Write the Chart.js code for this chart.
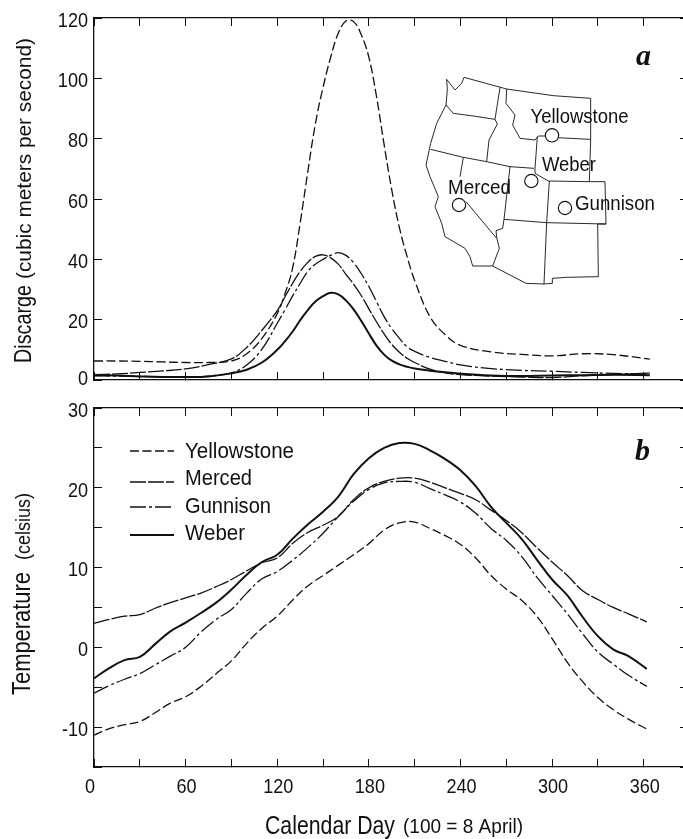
<!DOCTYPE html>
<html>
<head>
<meta charset="utf-8">
<title>Discharge and temperature</title>
<script src="https://cdn.jsdelivr.net/npm/chart.js@4"></script>
<style>
    html, body { margin: 0; padding: 0; background: #fff; overflow: hidden; width: 683px; height: 839px; }
    canvas { position: absolute; left: 0; }
    #dischargeChart { top: 0; }
    #temperatureChart { top: 400px; }
</style>
</head>
<body>
<canvas id="dischargeChart" width="690" height="400"></canvas>
<canvas id="temperatureChart" width="690" height="439"></canvas>
<script>
// Data
const seriesNames = ['Yellowstone', 'Merced', 'Gunnison', 'Weber'];

const dischargeDays = [0, 15, 30, 45, 60, 75, 90, 100, 110, 120, 125, 130, 135, 140, 145, 150, 155, 160, 165, 170, 175, 180, 185, 190, 195, 200, 205, 210, 220, 230, 240, 260, 280, 300, 320, 340, 364];
const dischargeYellowstone = [6.3, 6.3, 6.2, 6.0, 5.8, 5.8, 6.3, 8.7, 13.8, 22, 28.5, 37, 52, 69, 85, 97, 107, 115, 119, 118.8, 114.5, 107, 94, 78, 63, 50.5, 41, 33, 21, 15, 11.5, 9.3, 8.5, 8.0, 8.7, 8.4, 6.9];
const dischargeMerced = [1.8, 2.0, 2.5, 3.0, 3.7, 5.1, 7.0, 10.8, 16.5, 23, 27.5, 32, 36, 39, 41, 41.5, 40.5, 38.4, 35, 31.8, 28, 23.6, 19.3, 15.3, 11.8, 9.2, 7.2, 5.8, 3.6, 2.4, 1.8, 1.3, 1.0, 0.8, 1.4, 1.8, 2.3];
const dischargeGunnison = [1.4, 1.3, 1.2, 1.1, 1.1, 1.3, 2.4, 5.0, 10.2, 18.8, 23.2, 27.8, 32, 36, 38.4, 40, 41.3, 42.2, 41.3, 38.9, 35.3, 31, 26, 21, 17, 13.8, 11, 9.5, 7.5, 6.2, 5, 3.8, 3.2, 2.9, 2.5, 2.2, 2.0];
const dischargeWeber = [1.6, 1.5, 1.2, 1.0, 1.0, 1.2, 2.2, 3.4, 5.8, 10, 12.8, 16, 19.8, 23.2, 26, 27.8, 28.9, 28.4, 26.4, 23.4, 19.6, 15.4, 11.4, 8.4, 6.4, 5.2, 4.4, 3.8, 3.1, 2.6, 2.1, 1.5, 1.3, 1.5, 1.6, 1.7, 1.6];

const temperatureDays = [0, 10, 20, 30, 40, 50, 60, 70, 80, 90, 100, 110, 120, 130, 140, 150, 160, 170, 180, 190, 200, 210, 220, 230, 240, 250, 260, 270, 280, 290, 300, 310, 320, 330, 340, 350, 362];
const temperatureYellowstone = [-11, -10.2, -9.7, -9.3, -8.2, -7.0, -6.2, -4.9, -3.3, -1.7, 0.5, 2.4, 3.9, 5.9, 7.7, 9.0, 10.3, 11.6, 13, 14.7, 15.6, 15.7, 14.9, 14, 12.9, 11.2, 9, 7.3, 5.9, 3.9, 1.1, -1.9, -4.3, -6.3, -7.8, -9, -10.25];
const temperatureMerced = [3, 3.5, 3.9, 4.1, 4.9, 5.6, 6.2, 6.8, 7.6, 8.5, 9.6, 10.6, 11.2, 13, 14.4, 15.3, 16.4, 18.5, 20, 20.8, 21.2, 21.2, 20.7, 20, 19.3, 18.5, 17.2, 15.9, 14.4, 12.5, 10.7, 9, 7.1, 6, 5, 4.2, 3.2];
const temperatureGunnison = [-5.75, -4.8, -4, -3.3, -2.2, -1.1, 0, 1.9, 3.5, 4.75, 6.8, 8.6, 9.5, 10.9, 12.5, 14.3, 16.4, 18.3, 19.8, 20.6, 20.8, 20.7, 19.9, 19.1, 18.2, 16.8, 14.9, 13.4, 11.4, 8.8, 6.5, 4.2, 1.7, -0.6, -2.1, -3.5, -4.9];
const temperatureWeber = [-3.9, -2.6, -1.6, -1.2, 0.4, 2, 3.1, 4.3, 5.6, 7.25, 9.1, 10.7, 11.6, 13.6, 15.4, 17, 18.9, 21.7, 23.7, 25, 25.6, 25.5, 24.7, 23.6, 22.2, 20.2, 17.6, 15.6, 13.6, 11, 8.5, 6.5, 3.8, 1.4, -0.25, -1.1, -2.7];

const xTickLabels = [0, 60, 120, 180, 240, 300, 360];
const dischargeTickLabels = [0, 20, 40, 60, 80, 100, 120];
const temperatureTickLabels = [-10, 0, 10, 20, 30];

// Styles
const ink = '#111';
const sans = '"Liberation Sans", Arial, sans-serif';
const tickSize = 21;
const tickSqueeze = 0.86;
const lineStyles = [
    { borderDash: [9, 3.5], borderWidth: 1.3 },
    { borderDash: [16, 2], borderWidth: 1.3 },
    { borderDash: [16, 3, 3, 3], borderWidth: 1.3 },
    { borderDash: [], borderWidth: 2 }
];

function makeDatasets(days, rows) {
    return rows.map((values, i) => ({
        label: seriesNames[i],
        data: days.map((d, j) => ({ x: d, y: values[j] })),
        borderColor: ink,
        borderDash: lineStyles[i].borderDash,
        borderWidth: lineStyles[i].borderWidth,
        tension: 0.4,
        pointRadius: 0,
        fill: false
    }));
}

function fixSize(size) {
    return scale => {
        if (scale.isHorizontal()) scale.height = size;
        else scale.width = size;
    };
}

const axisLines = {
    display: true,
    drawOnChartArea: false,
    drawTicks: true,
    tickLength: -8,
    tickColor: ink,
    tickWidth: 1
};

function xAxis(position, size) {
    return {
        type: 'linear',
        position: position,
        min: 0,
        max: 389,
        afterFit: fixSize(size),
        border: { display: true, color: ink, width: 1.3 },
        grid: axisLines,
        ticks: { display: false, stepSize: 30, autoSkip: false, includeBounds: false }
    };
}

function yAxis(position, size, min, max, step) {
    return {
        type: 'linear',
        position: position,
        min: min,
        max: max,
        afterFit: fixSize(size),
        border: { display: true, color: ink, width: 1.3 },
        grid: axisLines,
        ticks: { display: false, stepSize: step, autoSkip: false }
    };
}

function baseOptions(scales) {
    return {
        responsive: false,
        animation: false,
        layout: { padding: 0 },
        plugins: { legend: { display: false }, tooltip: { enabled: false } },
        scales: scales
    };
}

// The original type is a narrow grotesque, so text is squeezed to its measured width
function label(ctx, text, x, y, size, width, angle, font) {
    ctx.save();
    ctx.translate(x, y);
    if (angle) ctx.rotate(angle);
    ctx.font = font || (size + 'px ' + sans);
    ctx.fillStyle = ink;
    ctx.textAlign = 'left';
    ctx.textBaseline = 'middle';
    if (width) ctx.scale(width / ctx.measureText(text).width, 1);
    ctx.fillText(text, 0, 0);
    ctx.restore();
}

function tickText(ctx, text, x, y, align) {
    ctx.save();
    ctx.translate(x, y);
    ctx.scale(tickSqueeze, 1);
    ctx.font = tickSize + 'px ' + sans;
    ctx.fillStyle = ink;
    ctx.textAlign = align;
    ctx.textBaseline = 'middle';
    ctx.fillText(text, 0, 0);
    ctx.restore();
}

function drawYTicks(chart, values) {
    const y = chart.scales.y;
    values.forEach(v => tickText(chart.ctx, String(v), 88, Math.min(y.getPixelForValue(v) + 3, y.bottom - 1), 'right'));
}

function drawXTicks(chart, values, labelY) {
    const x = chart.scales.x;
    values.forEach(v => tickText(chart.ctx, String(v), x.getPixelForValue(v) + (v === 0 ? -4 : 1), labelY, 'center'));
}

// Inset map, traced in a 3x frame whose origin is at x=340
const mapLines = [
    'M320 238L322 268L318 315L290 370L272 430L258 495L270 530L295 590L285 620L305 670L315 710L375 745L390 770L398 798L458 798L558 850L612 852L637 850L637 835L680 832L775 830L773 672L798 672L795 545L748 545L752 420L752 295L640 287L500 267L372 232L365 250L345 270L320 238',
    'M318 315L340 340L400 348L465 358',
    'M480 262L465 358L472 372L447 420L440 485',
    'M272 448L370 472L440 485L510 500L582 505',
    'M500 267L498 310L525 345L518 375L540 415L585 420L595 408L620 408L650 413L750 418',
    'M592 410L585 505L585 520L625 543L748 545',
    'M628 543L620 668L612 852',
    'M492 658L620 668L798 672',
    'M510 500L492 658L488 685L468 692L470 712L478 745L458 798',
    'M370 472L360 530',
    'M378 605L470 715'
];
const mapSites = [[636, 406], [574, 543], [357, 615], [675, 624]];
const mapLabels = [
    ['Yellowstone', 530.5, 117, 98],
    ['Weber', 542, 165, 54],
    ['Merced', 448, 188, 63],
    ['Gunnison', 575, 204, 80]
];

const dischargeNotes = {
    id: 'dischargeNotes',
    afterDraw(chart) {
        const ctx = chart.ctx;
        drawYTicks(chart, dischargeTickLabels);
        ctx.save();
        ctx.translate(340, 0);
        ctx.scale(1 / 3, 1 / 3);
        ctx.strokeStyle = ink;
        ctx.lineWidth = 2.7;
        ctx.lineJoin = 'round';
        mapLines.forEach(p => ctx.stroke(new Path2D(p)));
        mapSites.forEach(s => {
            ctx.beginPath();
            ctx.arc(s[0], s[1], 20, 0, Math.PI * 2);
            ctx.fillStyle = '#fff';
            ctx.fill();
            ctx.lineWidth = 3.4;
            ctx.stroke();
        });
        ctx.restore();
        mapLabels.forEach(m => label(ctx, m[0], m[1], m[2], 20, m[3]));
        label(ctx, 'a', 636, 57, 30, 0, 0, 'italic bold 30px "Liberation Serif", serif');
        label(ctx, 'Discarge', 24, 363, 24, 78, -Math.PI / 2);
        label(ctx, '(cubic meters per second)', 25, 279, 20, 241, -Math.PI / 2);
    }
};

const temperatureNotes = {
    id: 'temperatureNotes',
    afterDraw(chart) {
        const ctx = chart.ctx;
        const lineY = [51, 82, 107, 135];
        const textY = [52, 79, 107, 134];
        const textWidth = [109, 67, 86, 60];
        drawYTicks(chart, temperatureTickLabels);
        drawXTicks(chart, xTickLabels, 387);
        chart.data.datasets.forEach((ds, i) => {
            ctx.save();
            ctx.strokeStyle = ink;
            ctx.lineWidth = ds.borderWidth;
            ctx.setLineDash(ds.borderDash);
            ctx.beginPath();
            ctx.moveTo(130, lineY[i]);
            ctx.lineTo(174, lineY[i]);
            ctx.stroke();
            ctx.restore();
            label(ctx, ds.label, 185, textY[i], 22, textWidth[i]);
        });
        label(ctx, 'b', 635, 52, 30, 0, 0, 'italic bold 30px "Liberation Serif", serif');
        label(ctx, 'Temperature', 23, 295, 25, 123, -Math.PI / 2);
        label(ctx, '(celsius)', 24, 160, 21, 67, -Math.PI / 2);
        label(ctx, 'Calendar Day', 265, 427, 25, 130);
        label(ctx, '(100 = 8 April)', 403, 427, 21, 120);
    }
};

// Discharge
const dischargeChart = new Chart(document.getElementById('dischargeChart').getContext('2d'), {
    type: 'line',
    data: { datasets: makeDatasets(dischargeDays, [dischargeYellowstone, dischargeMerced, dischargeGunnison, dischargeWeber]) },
    options: baseOptions({
        x: xAxis('bottom', 20),
        xTop: xAxis('top', 18),
        y: yAxis('left', 94, 0, 120, 20),
        yRight: yAxis('right', 2, 0, 120, 20)
    }),
    plugins: [dischargeNotes]
});

// Temperature
const temperatureChart = new Chart(document.getElementById('temperatureChart').getContext('2d'), {
    type: 'line',
    data: { datasets: makeDatasets(temperatureDays, [temperatureYellowstone, temperatureMerced, temperatureGunnison, temperatureWeber]) },
    options: baseOptions({
        x: xAxis('bottom', 72),
        xTop: xAxis('top', 8),
        y: yAxis('left', 94, -15, 30, 5),
        yRight: yAxis('right', 2, -15, 30, 5)
    }),
    plugins: [temperatureNotes]
});
</script>
</body>
</html>
